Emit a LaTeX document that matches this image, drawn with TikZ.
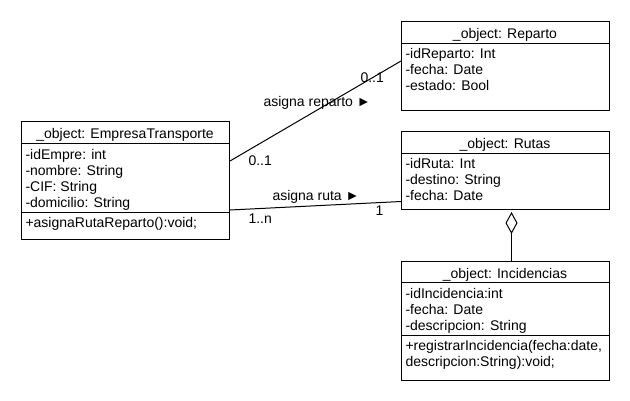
\documentclass[tikz,border=0pt]{standalone}
\usepackage{fontspec}
\setmainfont{Liberation Sans}
\usetikzlibrary{arrows.meta, positioning, calc}

\begin{document}
\begin{tikzpicture}[x=1pt, y=-1pt, line width=1pt,
    classbox/.style={draw, anchor=north west, inner sep=0pt, minimum width=208pt},
    txt/.style={inner sep=0pt, font=\fontsize{14}{16}\selectfont},
    head/.style={txt, anchor=base},
    attr/.style={txt, anchor=base west}]
    \useasboundingbox (0,0) rectangle (630,400);

    % EmpresaTransporte
    \node[classbox, minimum height=117.5pt] (emp) at (21,121) {};
    \draw (21,143) -- (229,143);
    \draw (21,212) -- (229,212);
    \node[head] (empH) at (125,138.5) {\_object: EmpresaTransporte};
    \node[attr] (empA1) at (25,159) {-idEmpre: int};
    \node[attr] (empA2) at (25,175) {-nombre: String};
    \node[attr] (empA3) at (25,191) {-CIF: String};
    \node[attr] (empA4) at (25,207) {-domicilio: String};
    \node[attr] (empM1) at (25,227.5) {+asignaRutaReparto():void;};

    % Reparto
    \node[classbox, minimum height=88.5pt] (rep) at (401,21) {};
    \draw (401,43) -- (609,43);
    \node[head] (repH) at (505,38.5) {\_object: Reparto};
    \node[attr] (repA1) at (405,58) {-idReparto: Int};
    \node[attr] (repA2) at (405,74.5) {-fecha: Date};
    \node[attr] (repA3) at (405,90.5) {-estado: Bool};

    % Rutas
    \node[classbox, minimum height=78pt] (rut) at (401,131) {};
    \draw (401,153) -- (609,153);
    \node[head] (rutH) at (505,148) {\_object: Rutas};
    \node[attr] (rutA1) at (405,168) {-idRuta: Int};
    \node[attr] (rutA2) at (405,184) {-destino: String};
    \node[attr] (rutA3) at (405,200) {-fecha: Date};

    % Incidencias
    \node[classbox, minimum height=119pt] (inc) at (401,260.5) {};
    \draw (401,282.5) -- (609,282.5);
    \draw (401,335) -- (609,335);
    \node[head] (incH) at (505,278) {\_object: Incidencias};
    \node[attr] (incA1) at (405,298) {-idIncidencia:int};
    \node[attr] (incA2) at (405,314) {-fecha: Date};
    \node[attr] (incA3) at (405,330) {-descripcion: String};
    \node[attr] (incM1) at (405,350.5) {+registrarIncidencia(fecha:date,};
    \node[attr] (incM2) at (405,366.5) {descripcion:String):void;};

    % associations
    \draw ([yshift=-40pt]emp.north east) -- ([yshift=-40pt]rep.north west);
    \draw ([yshift=-89pt]emp.north east) -- ([yshift=-70.5pt]rut.north west);
    \draw[-{Diamond[open, length=22pt, width=12pt]}, shorten >=2pt]
        ([xshift=6pt]inc.north) -- ([xshift=6pt]rut.south);

    % labels
    \node[attr] (mEmpRep) at (248,165.5) {0..1};
    \node[attr] (mRep) at (360,82) {0..1};
    \node[attr] (nRep) at (263,106) {asigna reparto ►};
    \node[attr] (nRut) at (272,200.5) {asigna ruta ►};
    \node[attr] (mRut) at (375,215) {1};
    \node[attr] (mEmpRut) at (248,223) {1..n};
\end{tikzpicture}
\end{document}
